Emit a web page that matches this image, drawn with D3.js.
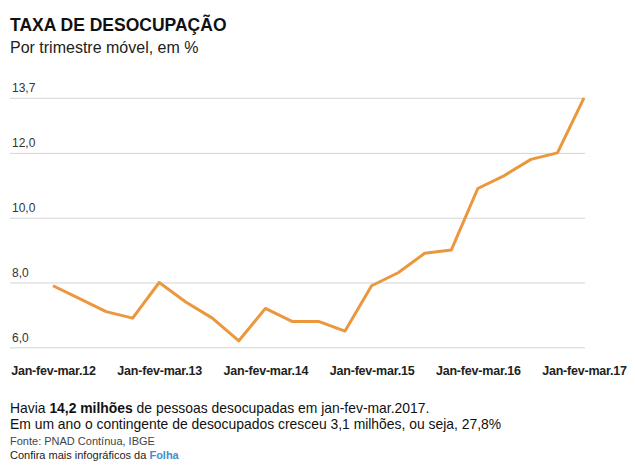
<!DOCTYPE html>
<html>
<head>
<meta charset="utf-8">
<script src="https://cdn.jsdelivr.net/npm/d3@7"></script>
<style>
  body { margin: 0; background: #fff; }
  svg { font-family: "Liberation Sans", Arial, Helvetica, sans-serif; }
</style>
</head>
<body>
<div id="chart"></div>
<script>
// quarters (rolling quarter, first month abbreviations) and rate in %
const periods = [
    'Jan-fev-mar.12', 'Abr-mai-jun.12', 'Jul-ago-set.12', 'Out-nov-dez.12',
    'Jan-fev-mar.13', 'Abr-mai-jun.13', 'Jul-ago-set.13', 'Out-nov-dez.13',
    'Jan-fev-mar.14', 'Abr-mai-jun.14', 'Jul-ago-set.14', 'Out-nov-dez.14',
    'Jan-fev-mar.15', 'Abr-mai-jun.15', 'Jul-ago-set.15', 'Out-nov-dez.15',
    'Jan-fev-mar.16', 'Abr-mai-jun.16', 'Jul-ago-set.16', 'Out-nov-dez.16',
    'Jan-fev-mar.17'
];
const rates = [7.9, 7.5, 7.1, 6.9, 8.0, 7.4, 6.9, 6.2, 7.2, 6.8, 6.8, 6.5,
               7.9, 8.3, 8.9, 9.0, 10.9, 11.3, 11.8, 12.0, 13.7];
const yTicks = [6, 8, 10, 12, 13.7];
const xTicks = ['Jan-fev-mar.12', 'Jan-fev-mar.13', 'Jan-fev-mar.14',
                'Jan-fev-mar.15', 'Jan-fev-mar.16', 'Jan-fev-mar.17'];

const width = 635;
const height = 470;
const gridLeft = 10, gridRight = 585;

const svg = d3.select('#chart')
    .append('svg')
    .attr('width', width)
    .attr('height', height);

// title block
svg.append('text')
    .attr('x', 10).attr('y', 31)
    .attr('font-size', 17.5).attr('font-weight', 'bold')
    .attr('fill', '#111')
    .text('TAXA DE DESOCUPAÇÃO');
svg.append('text')
    .attr('x', 10).attr('y', 53)
    .attr('font-size', 16).attr('fill', '#222')
    .text('Por trimestre móvel, em %');

// scales
const x = d3.scalePoint()
    .domain(periods)
    .range([53, 584]);
const y = d3.scaleLinear()
    .domain([6, 13.7])
    .range([347.3, 97.8]);

// grid + y labels
const fmt = d => d3.format('.1f')(d).replace('.', ',');
const grid = svg.append('g')
    .attr('transform', 'translate(' + gridLeft + ',0)')
    .call(d3.axisLeft(y).tickValues(yTicks).tickSize(-(gridRight - gridLeft)).tickFormat(fmt));
grid.select('.domain').remove();
grid.selectAll('.tick line')
    .attr('stroke', '#d4d4d4')
    .attr('stroke-width', 1);
grid.selectAll('.tick text')
    .attr('x', 2).attr('dy', -6)
    .attr('text-anchor', 'start')
    .attr('font-size', 12).attr('fill', '#333');

// x axis labels
const xAxis = svg.append('g')
    .attr('transform', 'translate(0,360)')
    .call(d3.axisBottom(x).tickValues(xTicks).tickSize(0));
xAxis.select('.domain').remove();
xAxis.selectAll('.tick text')
    .attr('dy', 12)
    .attr('font-size', 12.5).attr('font-weight', 'bold')
    .attr('fill', '#222')
    .attr('letter-spacing', -0.2);

// the line
svg.append('path')
    .datum(rates)
    .attr('fill', 'none')
    .attr('stroke', '#eb973d')
    .attr('stroke-width', 3)
    .attr('stroke-linejoin', 'round')
    .attr('d', d3.line()
        .x((d, i) => x(periods[i]))
        .y(d => y(d)));

// footer
const note1 = svg.append('text')
    .attr('x', 10).attr('y', 413)
    .attr('font-size', 13.9).attr('fill', '#111');
note1.append('tspan').text('Havia ');
note1.append('tspan').attr('font-weight', 'bold').text('14,2 milhões');
note1.append('tspan').text(' de pessoas desocupadas em jan-fev-mar.2017.');
svg.append('text')
    .attr('x', 10).attr('y', 429)
    .attr('font-size', 13.9).attr('fill', '#111')
    .text('Em um ano o contingente de desocupados cresceu 3,1 milhões, ou seja, 27,8%');
svg.append('text')
    .attr('x', 10).attr('y', 445)
    .attr('font-size', 11).attr('fill', '#444')
    .text('Fonte: PNAD Contínua, IBGE');
const more = svg.append('text')
    .attr('x', 10).attr('y', 459)
    .attr('font-size', 11).attr('fill', '#222');
more.append('tspan').text('Confira mais infográficos da ');
more.append('tspan').attr('font-weight', 'bold').attr('fill', '#3d8fd1').text('Folha');
</script>
</body>
</html>
